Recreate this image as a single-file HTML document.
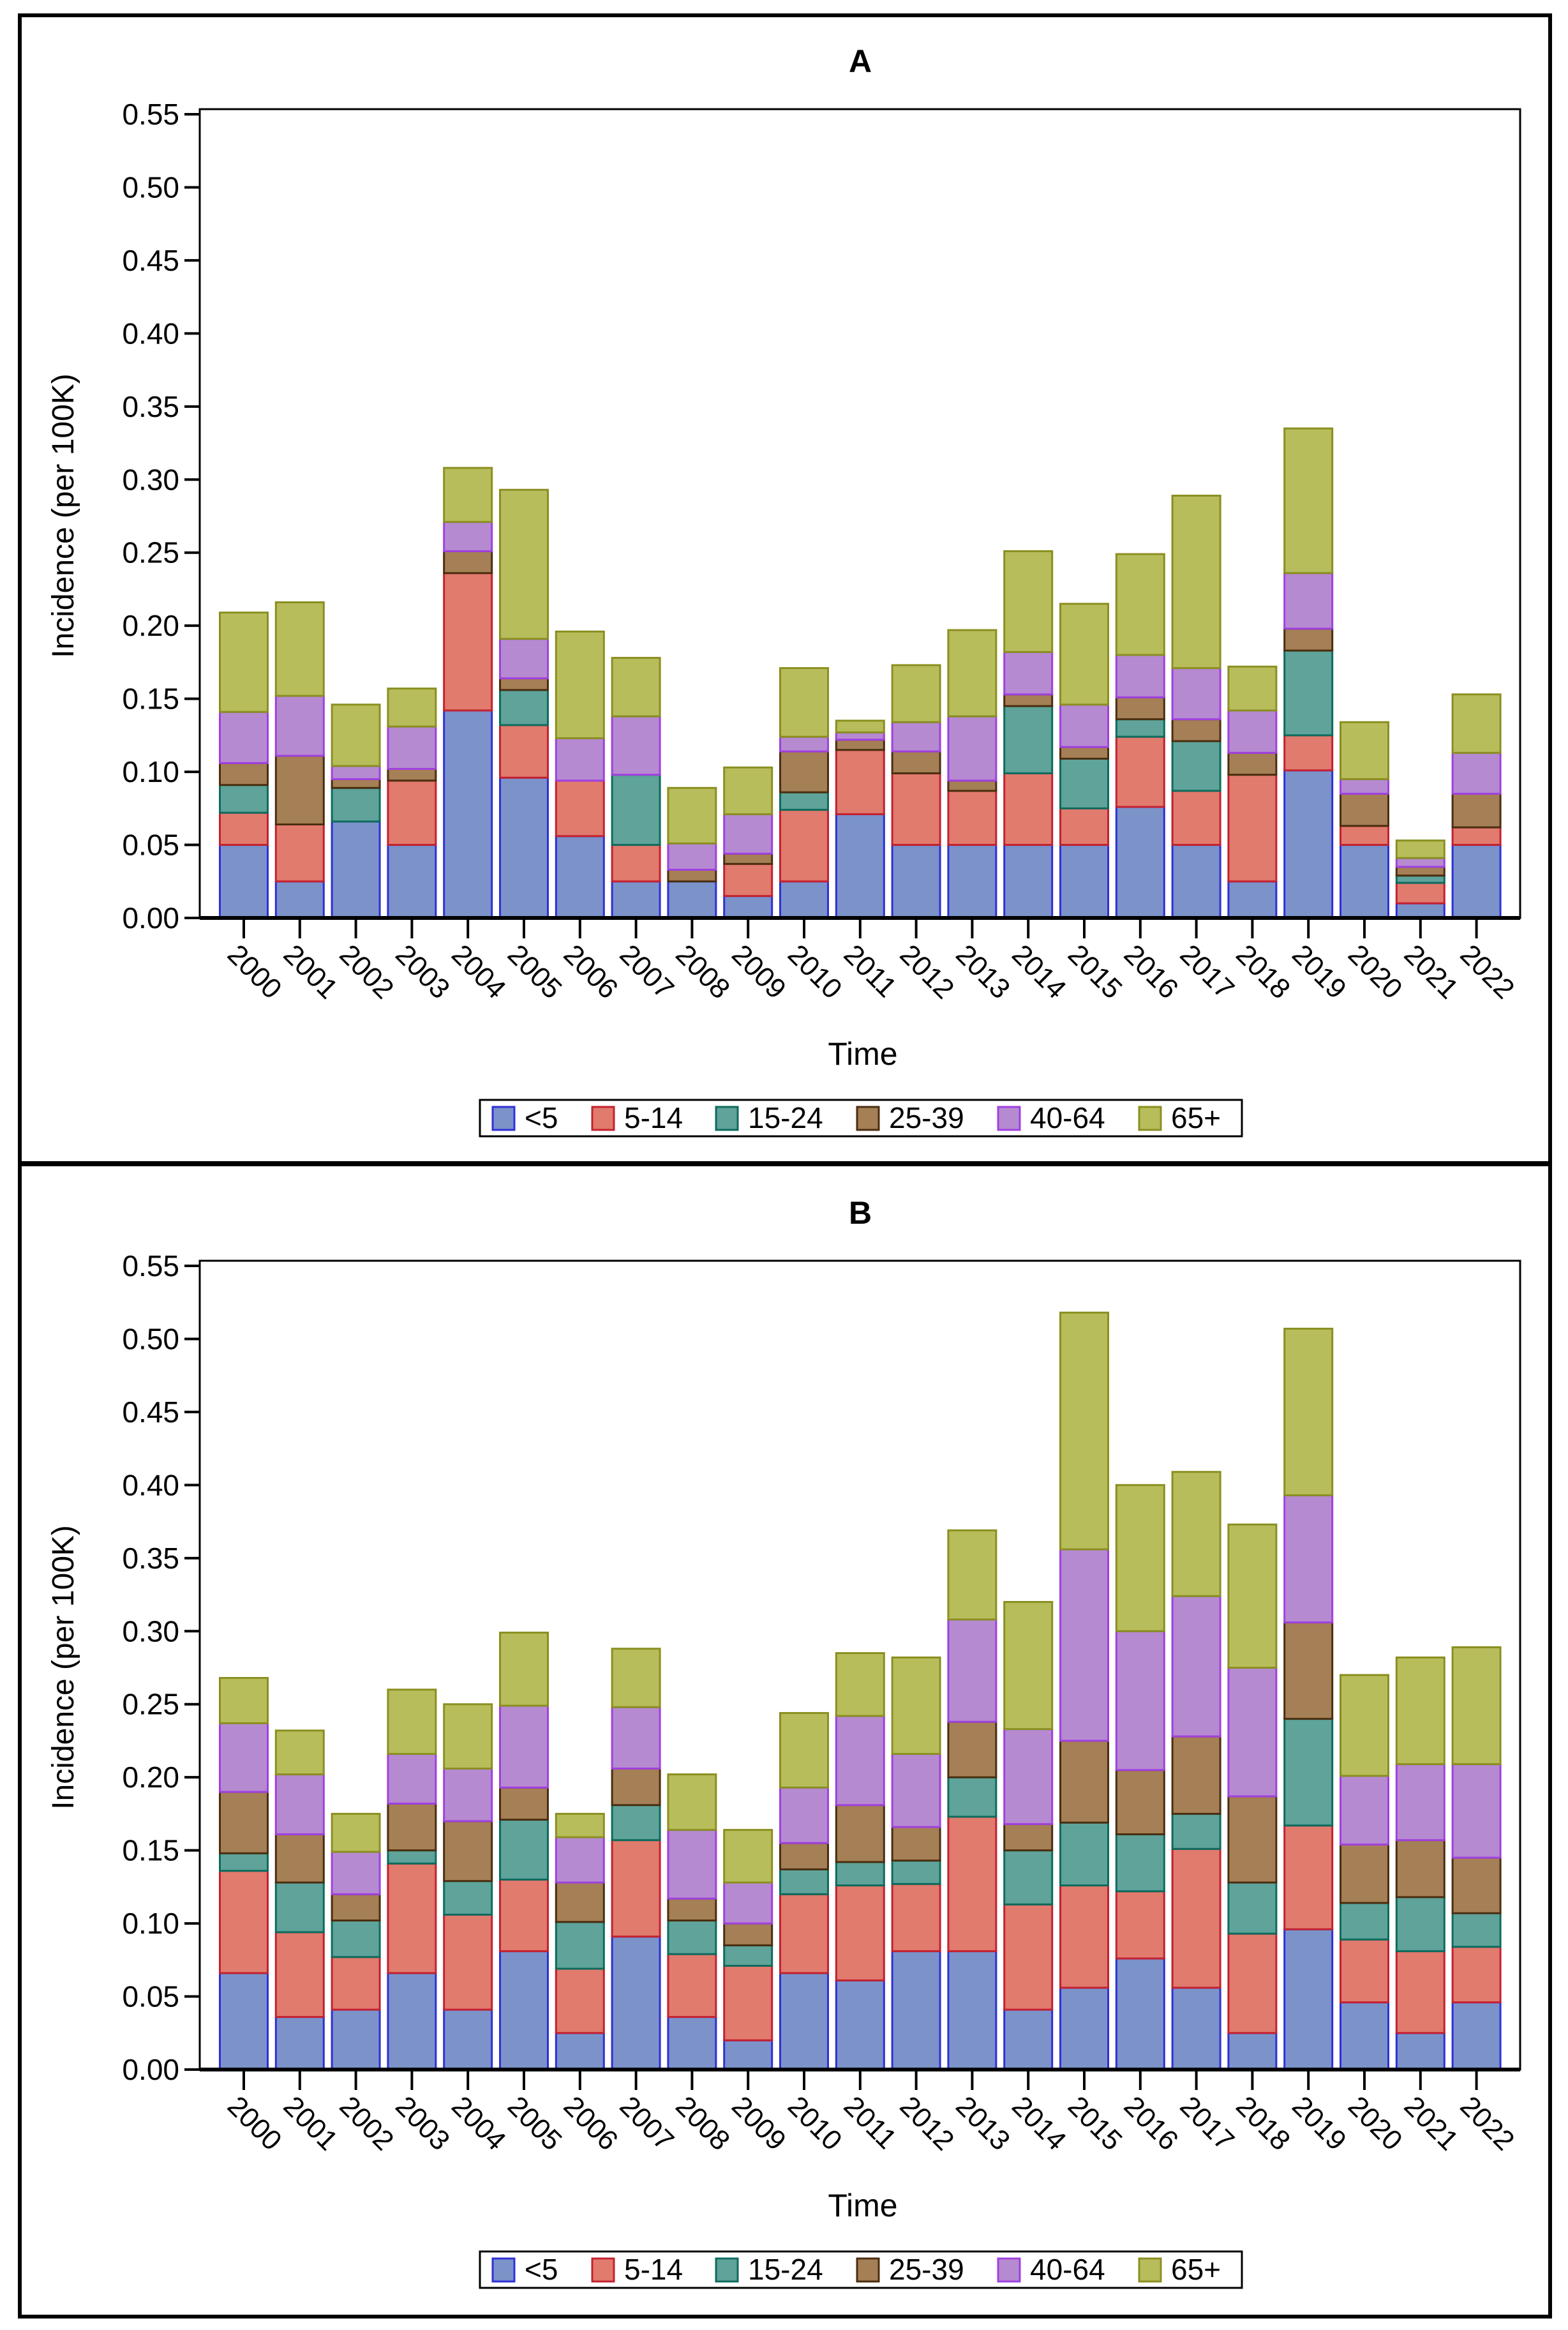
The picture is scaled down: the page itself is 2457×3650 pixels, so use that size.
<!DOCTYPE html>
<html><head><meta charset="utf-8"><style>
html,body{margin:0;padding:0;background:#fff}
svg{display:block}
text{font-family:"Liberation Sans",Arial,sans-serif;fill:#000}
</style></head><body>
<svg id="chart" width="2457" height="3650" viewBox="0 0 2457 3650" xmlns="http://www.w3.org/2000/svg">
<rect x="31" y="24" width="2398" height="3605" fill="none" stroke="#000" stroke-width="6"/>
<line x1="31" y1="1823" x2="2429" y2="1823" stroke="#000" stroke-width="8"/>
</svg>
<script>
const years = ["2000","2001","2002","2003","2004","2005","2006","2007","2008","2009","2010","2011","2012","2013","2014","2015","2016","2017","2018","2019","2020","2021","2022"];
const groups = ["<5","5-14","15-24","25-39","40-64","65+"];
const yTicks = [0,0.05,0.10,0.15,0.20,0.25,0.30,0.35,0.40,0.45,0.50,0.55];
// Panel A segment values per age group
const aUnder5 = [0.050,0.025,0.066,0.050,0.142,0.096,0.056,0.025,0.025,0.015,0.025,0.071,0.050,0.050,0.050,0.050,0.076,0.050,0.025,0.101,0.050,0.010,0.050];
const a5to14 = [0.022,0.039,0.000,0.044,0.094,0.036,0.038,0.025,0.000,0.022,0.049,0.044,0.049,0.037,0.049,0.025,0.048,0.037,0.073,0.024,0.013,0.014,0.012];
const a15to24 = [0.019,0.000,0.023,0.000,0.000,0.024,0.000,0.048,0.000,0.000,0.012,0.000,0.000,0.000,0.046,0.034,0.012,0.034,0.000,0.058,0.000,0.005,0.000];
const a25to39 = [0.015,0.047,0.006,0.008,0.015,0.008,0.000,0.000,0.008,0.007,0.028,0.007,0.015,0.007,0.008,0.008,0.015,0.015,0.015,0.015,0.022,0.006,0.023];
const a40to64 = [0.035,0.041,0.009,0.029,0.020,0.027,0.029,0.040,0.018,0.027,0.010,0.005,0.020,0.044,0.029,0.029,0.029,0.035,0.029,0.038,0.010,0.006,0.028];
const a65plus = [0.068,0.064,0.042,0.026,0.037,0.102,0.073,0.040,0.038,0.032,0.047,0.008,0.039,0.059,0.069,0.069,0.069,0.118,0.030,0.099,0.039,0.012,0.040];
// Panel B segment values per age group
const bUnder5 = [0.066,0.036,0.041,0.066,0.041,0.081,0.025,0.091,0.036,0.020,0.066,0.061,0.081,0.081,0.041,0.056,0.076,0.056,0.025,0.096,0.046,0.025,0.046];
const b5to14 = [0.070,0.058,0.036,0.075,0.065,0.049,0.044,0.066,0.043,0.051,0.054,0.065,0.046,0.092,0.072,0.070,0.046,0.095,0.068,0.071,0.043,0.056,0.038];
const b15to24 = [0.012,0.034,0.025,0.009,0.023,0.041,0.032,0.024,0.023,0.014,0.017,0.016,0.016,0.027,0.037,0.043,0.039,0.024,0.035,0.073,0.025,0.037,0.023];
const b25to39 = [0.042,0.033,0.018,0.032,0.041,0.022,0.027,0.025,0.015,0.015,0.018,0.039,0.023,0.038,0.018,0.056,0.044,0.053,0.059,0.066,0.040,0.039,0.038];
const b40to64 = [0.047,0.041,0.029,0.034,0.036,0.056,0.031,0.042,0.047,0.028,0.038,0.061,0.050,0.070,0.065,0.131,0.095,0.096,0.088,0.087,0.047,0.052,0.064];
const b65plus = [0.031,0.030,0.026,0.044,0.044,0.050,0.016,0.040,0.038,0.036,0.051,0.043,0.066,0.061,0.087,0.162,0.100,0.085,0.098,0.114,0.069,0.073,0.080];

const fills = ["#7b93c9","#e07b6d","#5fa39a","#a57f55","#b68ad0","#b8bd5c"];
const strokes = ["#2f2fd8","#c42030","#0d6b5e","#4a2e10","#a040e0","#8a8f20"];
const NS = "http://www.w3.org/2000/svg";
const svg = document.getElementById("chart");
function mk(tag, attrs, parent){const e=document.createElementNS(NS,tag);for(const k in attrs)e.setAttribute(k,attrs[k]);(parent||svg).appendChild(e);return e;}

function drawPanel(label, series, dy){
  const L=313,R=2382,T=171+dy,Y0=1438+dy,Ytop=179+dy;
  const yS=v=>Y0-(v/0.55)*(Y0-Ytop);
  const step=87.8, x0=382;
  const xS=i=>x0+i*step;
  const bw=75;
  const g=mk("g",{});
  
  
  const t=mk("text",{x:1348,y:113+dy,"text-anchor":"middle","font-size":50,"font-weight":"bold"},g);
  t.textContent=label;
  
  
  // bars
  years.forEach((yr,i)=>{
    let cum=0;
    series.forEach((s,k)=>{
      const v=s[i];
      if(v<=0) return;
      const y1=yS(cum+v), y2=yS(cum);
      const r=mk("rect",{x:xS(i)-bw/2,y:y1,width:bw,height:y2-y1,fill:fills[k],stroke:strokes[k],"stroke-width":3},g);
      
      
      cum+=v;
    });
  });
  // plot frame
  const f=mk("rect",{x:L,y:T,width:R-L,height:Y0-T,fill:"none",stroke:"#000","stroke-width":3},g);
  
  
  mk("line",{x1:L,y1:Y0,x2:R,y2:Y0,stroke:"#000","stroke-width":6},g);
  // y ticks
  yTicks.forEach(v=>{
    mk("line",{x1:L-24,y1:yS(v),x2:L,y2:yS(v),stroke:"#000","stroke-width":4},g);
    const tl=mk("text",{x:L-32,y:yS(v)+16,"text-anchor":"end","font-size":46},g);
    tl.textContent=v.toFixed(2);
    
    
  });
  const yt=mk("text",{x:0,y:0,"text-anchor":"middle","font-size":48,transform:`translate(115,${808+dy}) rotate(-90)`},g);
  yt.textContent="Incidence (per 100K)";
  
  
  // x ticks
  years.forEach((yr,i)=>{
    mk("line",{x1:xS(i),y1:Y0,x2:xS(i),y2:Y0+32,stroke:"#000","stroke-width":4},g);
    const xl=mk("text",{x:0,y:0,"font-size":44,transform:`translate(${xS(i)-28},${Y0+60}) rotate(45)`},g);
    xl.textContent=yr;
    
    
  });
  const xt=mk("text",{x:1352,y:1668+dy,"text-anchor":"middle","font-size":50},g);
  xt.textContent="Time";
  
  
  // legend
  const lg=mk("g",{},g);
  
  
  mk("rect",{x:752,y:1723+dy,width:1194,height:57,fill:"#fff",stroke:"#000","stroke-width":3},lg);
  const sx=[772,928,1122,1343,1564,1785];
  groups.forEach((gname,k)=>{
    const e=mk("g",{},lg);
    
    
    mk("rect",{x:sx[k],y:1734+dy,width:34,height:36,fill:fills[k],stroke:strokes[k],"stroke-width":3},e);
    const lt=mk("text",{x:sx[k]+50,y:1767+dy,"font-size":46},e);
    lt.textContent=gname;
  });
}
drawPanel("A",[aUnder5,a5to14,a15to24,a25to39,a40to64,a65plus],0);
drawPanel("B",[bUnder5,b5to14,b15to24,b25to39,b40to64,b65plus],1804);
</script>
</body></html>
